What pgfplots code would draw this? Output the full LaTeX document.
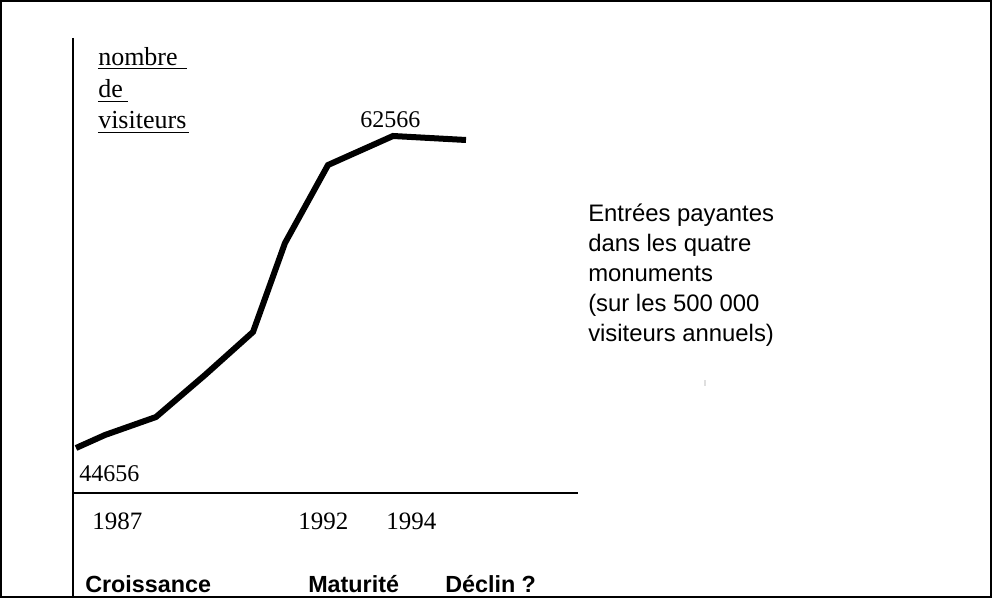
\documentclass[border=0pt]{standalone}
\usepackage{pgfplots}
\pgfplotsset{compat=1.18}
\usepackage{fontspec}
\setmainfont{Liberation Serif}
\setsansfont{Liberation Sans}
\newcommand{\pxy}[2]{(rel axis cs:{#1/992},{1-#2/598})}
\begin{document}
\begin{tikzpicture}
\begin{axis}[
  scale only axis, width=744pt, height=448.5pt,
  xmin=0, xmax=992, ymin=36045, ymax=70373,
  hide axis, clip=false,
]
% frame
\draw[line width=1.5pt] ([shift={(0.75pt,0.75pt)}]rel axis cs:0,0) rectangle ([shift={(-0.75pt,-0.75pt)}]rel axis cs:1,1);
% axis lines
\draw[line width=1.5pt] \pxy{73}{38} -- \pxy{73}{598};
\draw[line width=1.5pt] \pxy{73}{493} -- \pxy{578}{493};
% data
\addplot[black, line width=4.5pt, mark=none] coordinates {
  (76,44656) (105,45402) (156,46435) (205,48846) (253,51315)
  (285,56423) (328,60900) (393,62566) (466,62336)};
% y label
\node[anchor=base west, inner sep=0, font=\fontsize{19.5}{24}\selectfont] at \pxy{98}{66} {nombre};
\node[anchor=base west, inner sep=0, font=\fontsize{19.5}{24}\selectfont] at \pxy{98}{98} {de};
\node[anchor=base west, inner sep=0, font=\fontsize{19.5}{24}\selectfont] at \pxy{98}{129} {visiteurs};
\draw[line width=0.75pt] \pxy{98}{69} -- \pxy{187}{69};
\draw[line width=0.75pt] \pxy{98}{101.5} -- \pxy{128}{101.5};
\draw[line width=0.75pt] \pxy{98}{132.5} -- \pxy{189}{132.5};
% value labels
\node[anchor=base west, inner sep=0, font=\fontsize{18}{22}\selectfont] at \pxy{360}{128} {62566};
\node[anchor=base west, inner sep=0, font=\fontsize{18}{22}\selectfont] at \pxy{79}{482} {44656};
% years
\node[anchor=base west, inner sep=0, font=\fontsize{18.75}{22}\selectfont] at \pxy{92}{530} {1987};
\node[anchor=base west, inner sep=0, font=\fontsize{18.75}{22}\selectfont] at \pxy{298}{530} {1992};
\node[anchor=base west, inner sep=0, font=\fontsize{18.75}{22}\selectfont] at \pxy{386}{530} {1994};
% phases
\node[anchor=base west, inner sep=0, font=\sffamily\bfseries\fontsize{17.5}{20}\selectfont] at \pxy{85}{593} {Croissance};
\node[anchor=base west, inner sep=0, font=\sffamily\bfseries\fontsize{17.5}{20}\selectfont] at \pxy{308}{593} {Maturité};
\node[anchor=base west, inner sep=0, font=\sffamily\bfseries\fontsize{17.5}{20}\selectfont] at \pxy{445}{593} {Déclin ?};
% side text
\node[anchor=base west, inner sep=0, font=\sffamily\fontsize{17.9}{21}\selectfont] at \pxy{588}{222} {Entrées payantes};
\node[anchor=base west, inner sep=0, font=\sffamily\fontsize{17.9}{21}\selectfont] at \pxy{588}{252} {dans les quatre};
\node[anchor=base west, inner sep=0, font=\sffamily\fontsize{17.9}{21}\selectfont] at \pxy{588}{282} {monuments};
\node[anchor=base west, inner sep=0, font=\sffamily\fontsize{17.9}{21}\selectfont] at \pxy{588}{312} {(sur les 500 000};
\node[anchor=base west, inner sep=0, font=\sffamily\fontsize{17.9}{21}\selectfont] at \pxy{588}{342} {visiteurs annuels)};
\fill[gray!25] \pxy{704}{380} rectangle \pxy{706}{386};
\end{axis}
\end{tikzpicture}
\end{document}
